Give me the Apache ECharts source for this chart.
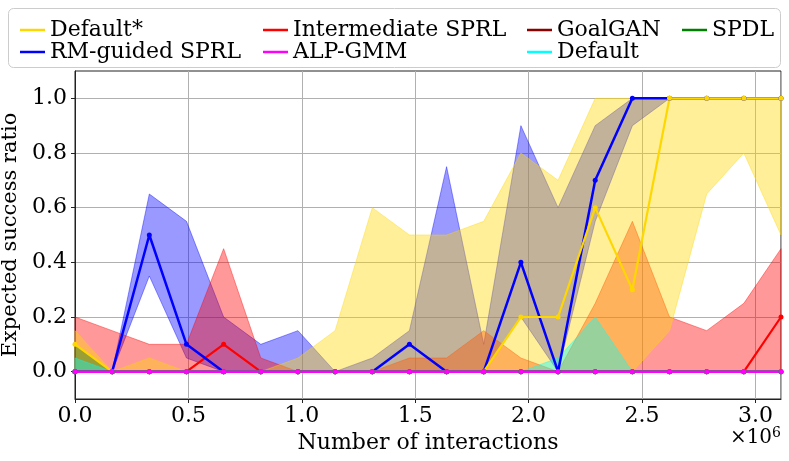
<!DOCTYPE html>
<html>
<head>
<meta charset="utf-8">
<script src="https://cdn.jsdelivr.net/npm/echarts@6/dist/echarts.min.js"></script>
<style>html,body{margin:0;padding:0;background:#fff;}#c{width:789px;height:461px;}</style>
</head>
<body>
<div id="c"></div>
<script>
// x positions: number of interactions
const steps = [0,163840,327680,491520,655360,819200,983040,1146880,1310720,1474560,1638400,1802240,1966080,2129920,2293760,2457600,2621440,2785280,2949120,3112960];

const defaultStarMean  = [0.1,0,0,0,0,0,0,0,0,0,0,0,0.2,0.2,0.6,0.3,1,1,1,1];
const defaultStarLower = [0,0,0,0,0,0,0,0,0,0,0,0,0,0,0,0,0.15,0.65,0.8,0.5];
const defaultStarUpper = [0.15,0,0.05,0,0,0,0.05,0.15,0.6,0.5,0.5,0.55,0.8,0.7,1,1,1,1,1,1];

const rmMean  = [0,0,0.5,0.1,0,0,0,0,0,0.1,0,0,0.4,0,0.7,1,1,1,1,1];
const rmLower = [0,0,0.35,0.05,0,0,0,0,0,0,0,0,0.2,0,0.55,0.9,1,1,1,1];
const rmUpper = [0,0,0.65,0.55,0.2,0.1,0.15,0,0.05,0.15,0.75,0.1,0.9,0.6,0.9,1,1,1,1,1];

const interMean  = [0,0,0,0,0.1,0,0,0,0,0,0,0,0,0,0,0,0,0,0,0.2];
const interLower = [0,0,0,0,0,0,0,0,0,0,0,0,0,0,0,0,0,0,0,0];
const interUpper = [0.2,0.15,0.1,0.1,0.45,0.05,0,0,0,0.05,0.05,0.15,0.05,0,0.25,0.55,0.2,0.15,0.25,0.45];

const alpMean  = [0,0,0,0,0,0,0,0,0,0,0,0,0,0,0,0,0,0,0,0];
const goalganMean = [0,0,0,0,0,0,0,0,0,0,0,0,0,0,0,0,0,0,0,0];

const defaultMean  = [0,0,0,0,0,0,0,0,0,0,0,0,0,0,0,0,0,0,0,0];
const defaultLower = [0,0,0,0,0,0,0,0,0,0,0,0,0,0,0,0,0,0,0,0];
const defaultUpper = [0.05,0,0,0,0,0,0,0,0,0,0,0,0,0.05,0.2,0,0,0,0,0];

const spdlMean  = [0,0,0,0,0,0,0,0,0,0,0,0,0,0,0,0,0,0,0,0];
const spdlLower = [0,0,0,0,0,0,0,0,0,0,0,0,0,0,0,0,0,0,0,0];
const spdlUpper = [0.1,0,0,0,0,0,0,0,0,0,0,0,0,0,0,0,0,0,0,0];

const yTicks = [0,0.2,0.4,0.6,0.8,1.0];

const FONT = 'DejaVu Serif';

function pairs(ys){ return steps.map((x,i)=>[x, ys[i]]); }
function band(key, rgba, lo, hi){
  return {
    name:key+'_band', type:'custom', silent:true, animation:false, z:2,
    data: steps.map((x,i)=>[x, lo[i], hi[i]]),
    encode:{x:0, y:[1,2]},
    renderItem:function(params, api){
      if (params.dataIndex !== 0) return null;
      const pts = [];
      for (let i=0;i<steps.length;i++) pts.push(api.coord([steps[i], hi[i]]));
      for (let i=steps.length-1;i>=0;i--) pts.push(api.coord([steps[i], lo[i]]));
      return {type:'polygon', shape:{points:pts},
        style:{fill:rgba, stroke:rgba, lineWidth:1}};
    }
  };
}
function line(name, color, ys, w){
  return {name:name, type:'line', data:pairs(ys), color:color, symbol:'circle', symbolSize:5,
    lineStyle:{color:color, width:w||2.2}, itemStyle:{color:color}, animation:false, z:3};
}

const series = [
  band('rm','rgba(0,0,255,0.4)', rmLower, rmUpper),
  band('inter','rgba(255,0,0,0.4)', interLower, interUpper),
  band('dstar','rgba(255,215,0,0.4)', defaultStarLower, defaultStarUpper),
  band('spdl','rgba(0,128,0,0.4)', spdlLower, spdlUpper),
  band('def','rgba(0,255,255,0.4)', defaultLower, defaultUpper),
  line('Intermediate SPRL','#FF0000', interMean, 2.2),
  line('RM-guided SPRL','#0000FF', rmMean, 2.5),
  line('Default*','#FFD700', defaultStarMean, 2.2),
  line('GoalGAN','#8B0000', goalganMean, 2.2),
  line('Default','#00FFFF', defaultMean, 2.2),
  line('SPDL','#008000', spdlMean, 2.2),
  line('ALP-GMM','#FF00FF', alpMean, 2.5)
];

function leg(data, left){
  return {data:data, orient:'vertical', left:left, top:14, itemGap:0, itemWidth:25, itemHeight:2.5,
    icon:'rect', selectedMode:false,
    textStyle:{fontFamily:FONT, fontSize:22, color:'#000', lineHeight:21}};
}

const chart = echarts.init(document.getElementById('c'), null, {renderer:'canvas'});
chart.setOption({
  animation:false,
  backgroundColor:'#fff',
  grid:{left:75, right:8, top:71, bottom:62, outerBoundsMode:'none', containLabel:false,
    show:true, borderColor:'#222', borderWidth:1, backgroundColor:'transparent'},
  xAxis:{type:'value', min:0, max:3112960, interval:500000,
    axisLine:{show:true, onZero:false, lineStyle:{color:'#222', width:1}},
    axisTick:{show:true, inside:false, length:4, lineStyle:{color:'#222'}},
    axisLabel:{fontFamily:FONT, fontSize:22, color:'#000', margin:6, showMaxLabel:false,
      formatter:v=>(v/1e6).toFixed(1)},
    splitLine:{show:true, lineStyle:{color:'#b0b0b0', width:1}},
    name:'Number of interactions', nameLocation:'middle', nameGap:33,
    nameTextStyle:{fontFamily:FONT, fontSize:22, color:'#000'}},
  yAxis:{type:'value', min:-0.1, max:1.1,
    axisLine:{show:true, onZero:false, lineStyle:{color:'#222', width:1}},
    axisTick:{show:true, length:4, customValues:yTicks, lineStyle:{color:'#222'}},
    axisLabel:{fontFamily:FONT, fontSize:22, color:'#000', margin:8, customValues:yTicks,
      formatter:v=>v.toFixed(1)},
    splitLine:{show:true, lineStyle:{color:'#b0b0b0', width:1}},
    name:'Expected success ratio', nameLocation:'middle', nameGap:45, nameRotate:90,
    nameTextStyle:{fontFamily:FONT, fontSize:21, color:'#000'}},
  legend:[
    leg(['Default*','RM-guided SPRL'], 15),
    leg(['Intermediate SPRL','ALP-GMM'], 258),
    leg(['GoalGAN','Default'], 522),
    leg(['SPDL'], 677)
  ],
  graphic:[
    {type:'rect', left:8, top:8, z:-1, shape:{width:772, height:59, r:5},
     style:{fill:'rgba(255,255,255,0.8)', stroke:'#cccccc', lineWidth:1}},
    {type:'text', right:8, top:426, style:{text:'×10{s|6}', fontFamily:FONT, fontSize:20, fill:'#000',
      rich:{s:{fontFamily:FONT, fontSize:14, verticalAlign:'top', padding:[0,0,10,0]}}}}
  ],
  series:series
});
</script>
</body>
</html>
